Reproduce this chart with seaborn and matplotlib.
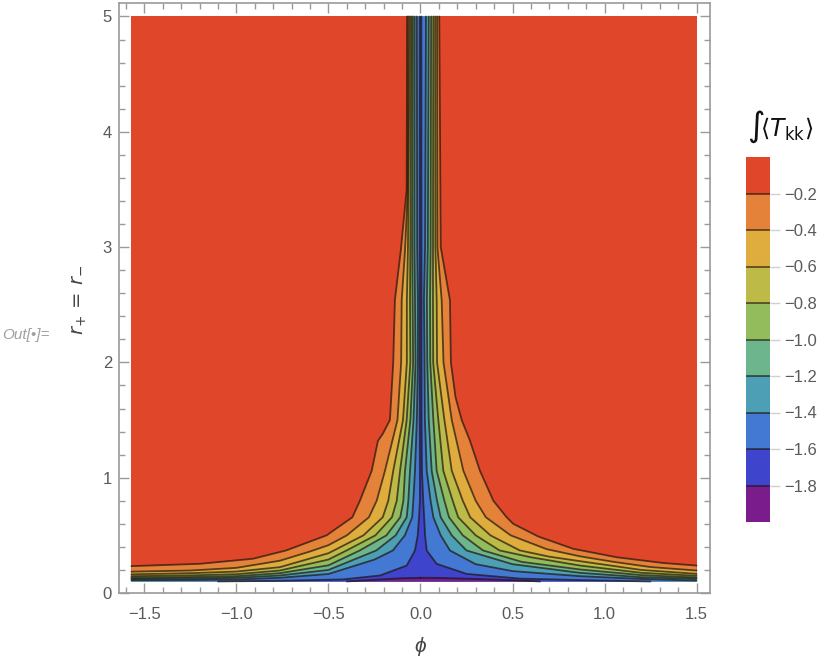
import numpy as np
import matplotlib
matplotlib.use("Agg")
import matplotlib.pyplot as plt
import matplotlib as mpl
import seaborn as sns
from matplotlib.colors import ListedColormap, BoundaryNorm

# plot domain (phi, r_+ = r_-)
PHI_MIN, PHI_MAX = -1.571, 1.5
R_MIN, R_MAX = 0.1, 5.0

# contour levels and band colours (from the lowest band up to the top one)
levels = [-0.2, -0.4, -0.6, -0.8, -1.0, -1.2, -1.4, -1.6, -1.8]
band_bounds = [-2.0, -1.8, -1.6, -1.4, -1.2, -1.0, -0.8, -0.6, -0.4, -0.2, 0.0]
band_colors = ["#7B1C8C", "#3E44CC", "#4479D3", "#4D9FB6", "#6DB58C",
               "#93BD5D", "#BDBA48", "#DFAC3E", "#E5823A", "#E0462A"]

# contour vertices: left branch (top -> bottom)
left_phi = [
    [-0.073, -0.075, -0.107, -0.139, -0.148, -0.166, -0.205, -0.231, -0.265, -0.329, -0.37, -0.51, -0.73, -0.91, -1.2, -1.571],
    [-0.066, -0.070, -0.084, -0.102, -0.105, -0.125, -0.193, -0.238, -0.28, -0.40, -0.5, -0.6, -0.764, -1.0, -1.25, -1.571],
    [-0.058, -0.068, -0.074, -0.074, -0.095, -0.148, -0.175, -0.205, -0.31, -0.5, -0.764, -1.0, -1.25, -1.571],
    [-0.050, -0.055, -0.057, -0.055, -0.075, -0.111, -0.129, -0.155, -0.245, -0.40, -0.5, -0.764, -1.0, -1.25, -1.571],
    [-0.042, -0.045, -0.043, -0.040, -0.055, -0.084, -0.093, -0.110, -0.185, -0.33, -0.5, -0.764, -1.0, -1.25, -1.571],
    [-0.032, -0.033, -0.030, -0.027, -0.038, -0.057, -0.066, -0.075, -0.135, -0.24, -0.5, -0.764, -1.0, -1.25, -1.571],
    [-0.020, -0.018, -0.014, -0.014, -0.020, -0.030, -0.039, -0.045, -0.085, -0.15, -0.25, -0.5, -0.764, -1.0, -1.25, -1.571],
    [-0.004, -0.004, -0.003, -0.008, -0.015, -0.03, -0.075, -0.22, -0.42, -0.764, -1.1],
    [0.0, -0.1, -0.25, -0.4],
]
left_r = [
    [5.0, 3.5, 2.97, 2.54, 2.0, 1.5, 1.38, 1.32, 1.06, 0.80, 0.657, 0.5, 0.369, 0.297, 0.253, 0.233],
    [5.0, 3.45, 2.97, 2.54, 2.0, 1.5, 1.06, 0.80, 0.657, 0.5, 0.415, 0.36, 0.28, 0.218, 0.195, 0.185],
    [5.0, 3.0, 2.54, 2.0, 1.5, 1.06, 0.80, 0.657, 0.5, 0.345, 0.224, 0.186, 0.172, 0.162],
    [5.0, 3.0, 2.54, 2.0, 1.5, 1.06, 0.80, 0.657, 0.5, 0.37, 0.29, 0.195, 0.163, 0.153, 0.146],
    [5.0, 3.0, 2.54, 2.0, 1.5, 1.06, 0.80, 0.657, 0.5, 0.369, 0.24, 0.172, 0.146, 0.138, 0.133],
    [5.0, 3.0, 2.54, 2.0, 1.5, 1.06, 0.80, 0.657, 0.5, 0.369, 0.2, 0.152, 0.132, 0.126, 0.122],
    [5.0, 3.0, 2.54, 2.0, 1.5, 1.06, 0.80, 0.657, 0.5, 0.369, 0.29, 0.165, 0.132, 0.117, 0.113, 0.111],
    [5.0, 1.5, 0.80, 0.657, 0.5, 0.369, 0.238, 0.152, 0.118, 0.106, 0.1],
    [0.132, 0.128, 0.115, 0.1],
]

# right branch (top -> bottom)
right_phi = [
    [0.102, 0.110, 0.160, 0.165, 0.19, 0.224, 0.269, 0.323, 0.396, 0.468, 0.504, 0.64, 0.83, 1.066, 1.32, 1.5],
    [0.090, 0.092, 0.115, 0.125, 0.170, 0.233, 0.30, 0.355, 0.49, 0.686, 0.867, 1.05, 1.25, 1.5],
    [0.080, 0.081, 0.088, 0.090, 0.130, 0.170, 0.23, 0.27, 0.38, 0.54, 0.7, 0.867, 1.2, 1.5],
    [0.070, 0.068, 0.068, 0.069, 0.097, 0.124, 0.175, 0.205, 0.30, 0.43, 0.6, 0.867, 1.2, 1.5],
    [0.058, 0.055, 0.052, 0.053, 0.070, 0.088, 0.13, 0.155, 0.23, 0.34, 0.55, 0.867, 1.2, 1.5],
    [0.045, 0.040, 0.035, 0.037, 0.045, 0.061, 0.090, 0.11, 0.17, 0.25, 0.5, 0.867, 1.2, 1.5],
    [0.030, 0.025, 0.019, 0.022, 0.024, 0.034, 0.055, 0.07, 0.11, 0.16, 0.3, 0.5, 0.867, 1.2, 1.5],
    [0.005, 0.006, 0.008, 0.015, 0.02, 0.025, 0.034, 0.088, 0.25, 0.54, 0.867, 1.25],
    [0.0, 0.1, 0.3, 0.55, 0.65],
]
right_r = [
    [5.0, 3.0, 2.54, 2.0, 1.7, 1.5, 1.32, 1.06, 0.80, 0.657, 0.60, 0.49, 0.383, 0.31, 0.26, 0.238],
    [5.0, 3.0, 2.54, 2.0, 1.5, 1.06, 0.80, 0.657, 0.5, 0.38, 0.318, 0.27, 0.225, 0.195],
    [5.0, 3.0, 2.54, 2.0, 1.5, 1.06, 0.80, 0.657, 0.5, 0.369, 0.315, 0.276, 0.2, 0.166],
    [5.0, 3.0, 2.54, 2.0, 1.5, 1.06, 0.80, 0.657, 0.5, 0.369, 0.31, 0.238, 0.175, 0.149],
    [5.0, 3.0, 2.54, 2.0, 1.5, 1.06, 0.80, 0.657, 0.5, 0.369, 0.27, 0.204, 0.155, 0.134],
    [5.0, 3.0, 2.54, 2.0, 1.5, 1.06, 0.80, 0.657, 0.5, 0.369, 0.25, 0.175, 0.137, 0.123],
    [5.0, 3.0, 2.54, 2.0, 1.5, 1.06, 0.80, 0.657, 0.5, 0.369, 0.25, 0.19, 0.146, 0.122, 0.108],
    [5.0, 1.5, 1.06, 0.80, 0.657, 0.5, 0.369, 0.253, 0.166, 0.125, 0.112, 0.1],
    [0.132, 0.131, 0.122, 0.108, 0.1],
]

x_ticks = [-1.5, -1.0, -0.5, 0.0, 0.5, 1.0, 1.5]
y_ticks = [0, 1, 2, 3, 4, 5]

LINE_COLOR = (0.12, 0.08, 0.05, 0.7)
GREY_TEXT = "#5a5a5a"
GREY_AXIS = "#9a9a9a"

sns.set_theme(style="ticks")
plt.rcParams["font.family"] = ["Liberation Sans", "DejaVu Sans"]
plt.rcParams["mathtext.fontset"] = "dejavusans"

fig = plt.figure(figsize=(8.3, 6.64), dpi=100)
ax = fig.add_axes([119 / 830, 71 / 664, 591 / 830, 590 / 664])

# top band fills the whole domain, deeper bands are nested on top of it
ax.fill_between([PHI_MIN, PHI_MAX], R_MIN, R_MAX, color=band_colors[-1], lw=0)
for k, lev in enumerate(levels):
    lp, lr = left_phi[k], left_r[k]
    rp, rr = right_phi[k], right_r[k]
    xs = list(lp) + [lp[-1], rp[-1]] + list(rp[::-1])
    ys = list(lr) + [R_MIN, R_MIN] + list(rr[::-1])
    ax.fill(xs, ys, color=band_colors[len(levels) - 1 - k], lw=0)

for k, lev in enumerate(levels):
    sns.lineplot(x=left_phi[k], y=left_r[k], sort=False, estimator=None,
                 color=LINE_COLOR, lw=1.3, ax=ax)
    sns.lineplot(x=right_phi[k], y=right_r[k], sort=False, estimator=None,
                 color=LINE_COLOR, lw=1.3, ax=ax)

ax.set_xlim(-1.638, 1.573)
ax.set_ylim(0, 5.117)
ax.set_xticks(x_ticks)
ax.set_xticklabels(["\u2212" + f"{abs(v):.1f}" if v < 0 else f"{v:.1f}" for v in x_ticks])
ax.set_yticks(y_ticks)
ax.set_yticklabels([str(v) for v in y_ticks])
ax.xaxis.set_minor_locator(mpl.ticker.MultipleLocator(0.1))
ax.yaxis.set_minor_locator(mpl.ticker.MultipleLocator(0.2))
ax.tick_params(which="both", direction="in", top=True, right=True, color=GREY_AXIS, width=1.0)
ax.tick_params(which="major", length=7)
ax.tick_params(which="minor", length=4)
ax.tick_params(axis="x", which="major", labelsize=12, labelcolor=GREY_TEXT, pad=10)
ax.tick_params(axis="y", which="major", labelsize=12, labelcolor=GREY_TEXT, pad=5)
for sp in ax.spines.values():
    sp.set_color(GREY_AXIS)
    sp.set_linewidth(1.2)

ax.set_xlabel("\u03d5", fontsize=15, style="italic", color="#444444")
ax.xaxis.set_label_coords(0.509, -0.074)
ax.set_ylabel(r"$r_{+}\,=\,r_{-}$", fontsize=14, color="#444444", va="center")
ax.yaxis.set_label_coords(-0.066, 0.497)
ax.grid(False)

fig.text(2 / 830, 1 - 335 / 664, "Out[\u2022]=", fontsize=11, style="italic",
         color="#a0a0a0", va="center", ha="left")

# colour legend
cax = fig.add_axes([746 / 830, 142 / 664, 24 / 830, 365 / 664])
cmap = ListedColormap(band_colors)
norm = BoundaryNorm(band_bounds, cmap.N)
cb = fig.colorbar(mpl.cm.ScalarMappable(norm=norm, cmap=cmap), cax=cax)
cb.set_ticks(levels)
cax.yaxis.set_minor_locator(mpl.ticker.NullLocator())
cb.outline.set_visible(False)
for lev in levels:
    cax.axhline(lev, color=LINE_COLOR, lw=1.2)
cax.set_yticklabels(["\u2212" + f"{abs(v):.1f}" for v in levels])
cax.tick_params(which="both", length=7, width=1.0, color="#d0d0d0", labelcolor=GREY_TEXT,
                labelsize=12, pad=3)
cax.tick_params(which="minor", length=0)
fig.text(780 / 830, 1 - 127 / 664, r"$\int\!\langle T_{\rm kk}\rangle$",
         fontsize=17, ha="center", va="center", color="#111111")

fig.savefig("out.png", dpi=100)
